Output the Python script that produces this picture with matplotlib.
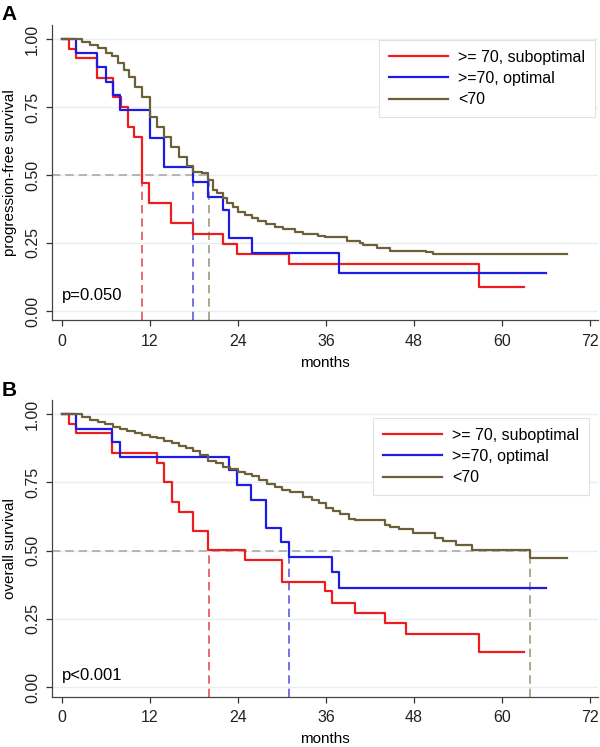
import matplotlib
matplotlib.use("Agg")
import matplotlib.pyplot as plt

plt.rcParams['font.family'] = ['Liberation Sans', 'DejaVu Sans']

labels = [">= 70, suboptimal", ">=70, optimal", "<70"]
colors = ["#ee1c1c", "#1c1ce6", "#6b6038"]
dash_colors = ["#e4505a", "#5a5ae0", "#a0977f"]

# panel A: progression-free survival
pfs_sub_t = [0, 0.95, 1.87, 4.8, 6.9, 8.05, 8.96, 9.87, 10.96, 11.9, 14.9, 17.9, 21.9, 23.9, 30.9, 56.9, 63.0]
pfs_sub_s = [1, .962, .929, .855, .788, .749, .678, .641, .469, .396, .322, .283, .246, .21, .173, .087, .087]
pfs_opt_t = [0, 1.87, 4.8, 5.96, 6.9, 7.9, 12.0, 13.96, 17.8, 19.96, 21.9, 22.8, 25.9, 37.8, 66.0]
pfs_opt_s = [1, .947, .898, .843, .794, .739, .635, .531, .475, .42, .371, .267, .212, .139, .139]
pfs_young_t = [0, 2.7, 3.8, 4.95, 5.96, 6.87, 7.7, 8.4, 9.14, 9.96, 10.96, 12.0, 12.9, 13.96, 14.9,
               15.96, 17.0, 17.9, 19.1, 19.96, 20.6, 21.2, 21.9, 22.5, 23.3, 24.0, 24.9, 25.9, 26.7,
               27.8, 29.0, 30.2, 31.8, 32.9, 34.9, 35.8, 38.8, 40.6, 41.0, 42.9, 44.7, 49.7, 50.6, 68.9]
pfs_young_s = [1, .99, .978, .966, .95, .9375, .91, .886, .861, .825, .788, .712, .678, .641, .604,
               .567, .533, .512, .506, .482, .445, .433, .414, .396, .383, .365, .353, .342, .331,
               .32, .309, .300, .292, .283, .276, .273, .258, .249, .243, .23, .222, .218, .21, .21]
pfs_medians = [10.9, 17.8, 20.05]

# panel B: overall survival
os_sub_t = [0, .95, 1.87, 6.87, 12.9, 13.96, 14.96, 15.96, 17.9, 19.96, 24.96, 29.96, 35.9, 36.8,
            40.0, 44.1, 46.9, 56.9, 63.0]
os_sub_s = [1, .962, .929, .856, .819, .75, .677, .64, .571, .502, .465, .386, .353, .307,
            .27, .233, .194, .129, .129]
os_opt_t = [0, 1.87, 6.87, 7.9, 22.8, 23.8, 25.8, 27.8, 29.9, 30.9, 36.8, 37.8, 66.0]
os_opt_s = [1, .947, .899, .844, .795, .74, .685, .581, .532, .477, .422, .362, .362]
os_young_t = [0, 2.7, 3.8, 4.95, 5.9, 7.0, 7.9, 8.8, 9.96, 10.96, 12.0, 12.9, 13.96, 14.96, 15.96,
              16.9, 17.9, 18.8, 19.96, 21.0, 22.0, 22.9, 24.0, 25.0, 25.9, 26.9, 27.9, 29.1, 30.0,
              31.1, 32.9, 34.1, 35.0, 36.0, 37.0, 37.9, 39.1, 40.0, 44.1, 44.7, 45.9, 47.9, 50.9,
              51.9, 53.8, 55.9, 63.8, 68.9]
os_young_s = [1, .99, .978, .97, .962, .954, .945, .938, .929, .923, .917, .911, .901, .893, .884,
              .874, .864, .85, .828, .819, .807, .799, .789, .779, .772, .758, .742, .734, .722,
              .713, .695, .685, .673, .655, .646, .634, .614, .612, .593, .585, .578, .565, .545,
              .536, .52, .502, .471, .471]
os_medians = [20.05, 30.9, 63.8]

xticks = [0, 12, 24, 36, 48, 60, 72]
yticks = [0, 0.25, 0.5, 0.75, 1.0]

fig = plt.figure(figsize=(6, 7.47), dpi=100)
axA = fig.add_axes([0.0867, 0.571, 0.91, 0.395])
axB = fig.add_axes([0.0867, 0.0675, 0.91, 0.3965])

def km_panel(ax, curves, medians, ylabel, ptext, py, leg_anchor):
    ylo, yhi = -0.035, 1.05
    for y in yticks:
        ax.axhline(y, color="#e9eef0", lw=1, zorder=0)
    ax.plot([-1.4, max(medians)], [0.5, 0.5], color="#aaaaaa", lw=1.2, ls=(0, (5, 3)), zorder=1)
    for m, c in zip(medians, dash_colors):
        ax.plot([m, m], [ylo, 0.5], color=c, lw=1.2, ls=(0, (5, 3)), zorder=1)
    for (t, s), c, lab in zip(curves, colors, labels):
        ax.plot(t, s, drawstyle="steps-post", color=c, lw=1.6, label=lab, zorder=3)
    ax.set_xlim(-1.36, 73.1)
    ax.set_ylim(ylo, yhi)
    ax.set_xticks(xticks)
    ax.set_yticks(yticks)
    ax.set_yticklabels(["0.00", "0.25", "0.50", "0.75", "1.00"], rotation=90, va="center")
    ax.tick_params(axis="both", labelsize=11.5, length=4.5, width=0.9, color="#333333",
                   labelcolor="#222222")
    ax.tick_params(axis="x", pad=5)
    ax.tick_params(axis="y", pad=4)
    for sp in ["top", "right"]:
        ax.spines[sp].set_visible(False)
    for sp in ["left", "bottom"]:
        ax.spines[sp].set_color("#444444")
        ax.spines[sp].set_linewidth(0.9)
    ax.set_xlabel("months", fontsize=11, labelpad=5)
    ax.set_ylabel(ylabel, fontsize=11, labelpad=6)
    ax.text(0, py, ptext, fontsize=12, va="center", ha="left")
    leg = ax.legend(loc="upper right", bbox_to_anchor=leg_anchor, borderaxespad=0,
                    fontsize=11.5, handlelength=3.7, handletextpad=0.65, labelspacing=0.4,
                    fancybox=False, framealpha=1, edgecolor="#e2e2e2", borderpad=0.6)
    leg.get_frame().set_linewidth(0.8)

km_panel(axA, [(pfs_sub_t, pfs_sub_s), (pfs_opt_t, pfs_opt_s), (pfs_young_t, pfs_young_s)],
         pfs_medians, "progression-free survival", "p=0.050", 0.057, (0.9945, 0.9506))
km_panel(axB, [(os_sub_t, os_sub_s), (os_opt_t, os_opt_s), (os_young_t, os_young_s)],
         os_medians, "overall survival", "p<0.001", 0.041, (0.9835, 0.9406))

fig.text(9 / 600, 1 - 15 / 747, "A", fontsize=15, fontweight="bold", ha="center", va="center")
fig.text(9.5 / 600, 1 - 390.5 / 747, "B", fontsize=15, fontweight="bold", ha="center", va="center")

fig.savefig("out.png", dpi=100)
